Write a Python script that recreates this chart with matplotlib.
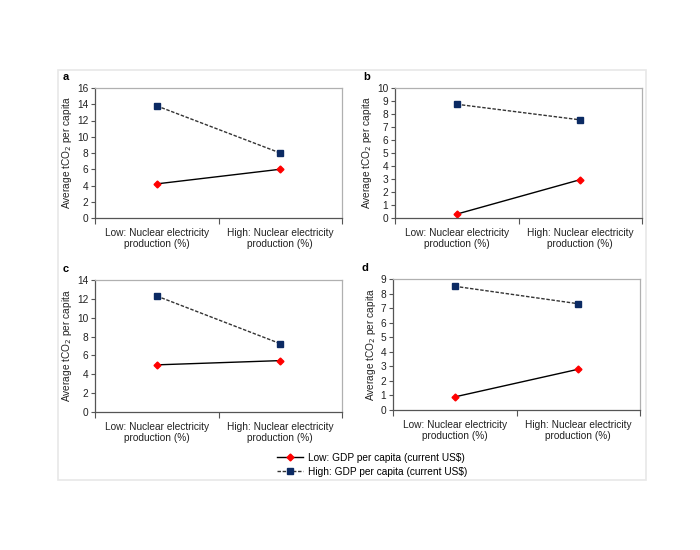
import matplotlib.pyplot as plt
from matplotlib.patches import Rectangle

plt.rcParams["font.family"] = ["Liberation Sans", "DejaVu Sans"]

# Data
categories = ["Low: Nuclear electricity\nproduction (%)", "High: Nuclear electricity\nproduction (%)"]
panel_names = ["a", "b", "c", "d"]
low_gdp = {
    "a": [4.2, 6.0],
    "b": [0.3, 2.95],
    "c": [5.0, 5.45],
    "d": [0.9, 2.8],
}
high_gdp = {
    "a": [13.8, 8.0],
    "b": [8.75, 7.55],
    "c": [12.3, 7.25],
    "d": [8.5, 7.3],
}
y_max = {"a": 16, "b": 10, "c": 14, "d": 9}
y_step = {"a": 2, "b": 1, "c": 2, "d": 1}

W, H = 700, 550
fig = plt.figure(figsize=(W / 100, H / 100), dpi=100)

# light frame around the whole figure
fig.patches.append(Rectangle((58 / W, 1 - 480 / H), 588 / W, 410 / H,
                             transform=fig.transFigure, fill=False,
                             edgecolor="#e8e8e8", linewidth=1.2))

# axes boxes in pixels: left, top, right, bottom
boxes = {
    "a": (95, 88, 342, 218),
    "b": (395, 88, 642, 218),
    "c": (95, 280, 342, 412),
    "d": (393, 279, 640, 410),
}

lines = []
for name in panel_names:
    x0, y0, x1, y1 = boxes[name]
    ax = fig.add_axes([x0 / W, 1 - y1 / H, (x1 - x0) / W, (y1 - y0) / H])
    xs = [0.5, 1.5]
    l1, = ax.plot(xs, low_gdp[name], color="black", linewidth=1.0,
                  marker="D", markersize=3.5, markerfacecolor="red",
                  markeredgecolor="red", label="Low: GDP per capita (current US$)")
    l2, = ax.plot(xs, high_gdp[name], color="#333333", linewidth=1.0,
                  linestyle=(0, (2.5, 1.2)), marker="s", markersize=4.5,
                  markerfacecolor="#0b2a63", markeredgecolor="#0b2a63",
                  label="High: GDP per capita (current US$)")
    lines = [l1, l2]

    ax.set_xlim(0, 2)
    ax.set_ylim(0, y_max[name])
    ax.set_yticks(range(0, y_max[name] + 1, y_step[name]))
    ax.set_xticks([0, 1, 2])
    ax.set_xticklabels([])
    ax.set_xticks(xs, minor=True)
    ax.set_xticklabels(categories, minor=True, fontsize=7.3, color="#222222",
                       linespacing=1.15)
    ax.tick_params(axis="x", which="minor", length=0, pad=7)
    ax.tick_params(axis="x", which="major", length=4, width=0.8, color="#555555")
    ax.tick_params(axis="y", length=3, width=0.8, color="#555555",
                   labelsize=7.3, labelcolor="#222222", pad=2)
    ax.set_ylabel("Average tCO$_2$ per capita", fontsize=7.3, color="#222222",
                  labelpad=2)
    for side in ["top", "right"]:
        ax.spines[side].set_color("#b0b0b0")
    for side in ["left", "bottom"]:
        ax.spines[side].set_color("#555555")
    for s in ax.spines.values():
        s.set_linewidth(0.9)

    fig.text((x0 - 32) / W, 1 - (y0 - 11) / H, name, fontsize=8,
             fontweight="bold", ha="left", va="center")

fig.legend(handles=lines, loc="center", bbox_to_anchor=(372 / W, 1 - 465 / H),
           frameon=False, fontsize=7.3, handlelength=2.6, labelspacing=0.4,
           handletextpad=0.5)

plt.savefig("out.png", dpi=100)
